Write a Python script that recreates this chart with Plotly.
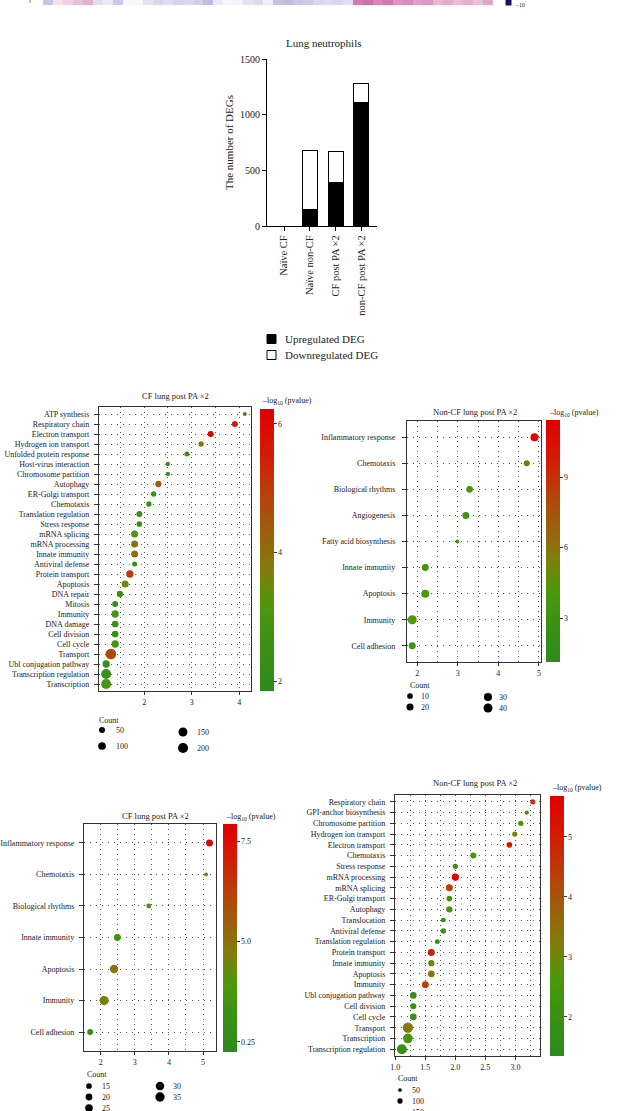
import numpy as np
import plotly.graph_objects as go

W, H = 626, 1111
FONT = "Liberation Serif"


def fx(x):
    return x / W


def fy(y):
    return 1 - y / H


# ---------------- data ----------------
# top heat-strip (bottom row of a cropped heatmap)
strip_values = [-2.6, 1.2, 1.8, 2.4, 3.0, -1.5, -1.0, -2.5, -0.3, -0.4, -1.2, -1.8, -1.5,
                -2.0, -1.7, -2.2, -3.0, -1.0, -0.4, -0.6, -1.3, -1.6, -0.7, -2.8, -3.0,
                -2.6, -2.4, -1.8, -1.6, -1.9, -1.5, 5.0, 5.5, 4.6, 5.2, 4.0, 4.4, 3.6,
                4.0, 2.8, 3.2, 2.6, 3.0, 2.4, 3.4]

# bar chart
bar_groups = ["Naïve CF", "Naïve non-CF", "CF post PA ×2", "non-CF post PA ×2"]
up_degs = [0, 150, 390, 1110]
down_degs = [0, 530, 280, 170]

# panel 1: CF lung post PA x2 (up)
p1_terms = ["ATP synthesis", "Respiratory chain", "Electron transport", "Hydrogen ion transport",
            "Unfolded protein response", "Host-virus interaction", "Chromosome partition",
            "Autophagy", "ER-Golgi transport", "Chemotaxis", "Translation regulation",
            "Stress response", "mRNA splicing", "mRNA processing", "Innate immunity",
            "Antiviral defense", "Protein transport", "Apoptosis", "DNA repair", "Mitosis",
            "Immunity", "DNA damage", "Cell division", "Cell cycle", "Transport",
            "Ubl conjugation pathway", "Transcription regulation", "Transcription"]
p1_fold = [4.12, 3.91, 3.40, 3.20, 2.90, 2.50, 2.50, 2.30, 2.20, 2.10, 1.90, 1.90, 1.80, 1.80,
           1.80, 1.80, 1.70, 1.60, 1.49, 1.39, 1.39, 1.39, 1.39, 1.39, 1.30, 1.20, 1.20, 1.20]
p1_count = [13, 50, 50, 35, 29, 17, 17, 58, 35, 35, 50, 43, 78, 78, 78, 29, 87, 78, 58, 50,
            87, 69, 69, 87, 231, 87, 196, 196]
p1_logp = [2.2, 5.6, 6.1, 3.9, 2.6, 2.2, 2.2, 4.3, 2.6, 2.5, 2.4, 2.3, 3.1, 4.0, 4.0, 2.2, 5.0,
           3.6, 2.6, 2.4, 2.9, 2.5, 2.5, 2.8, 4.8, 2.2, 2.5, 2.9]
p1_legend_counts = [50, 100, 150, 200]

# panel 2: Non-CF lung post PA x2
p2_terms = ["Inflammatory response", "Chemotaxis", "Biological rhythms", "Angiogenesis",
            "Fatty acid biosynthesis", "Innate immunity", "Apoptosis", "Immunity", "Cell adhesion"]
p2_fold = [4.89, 4.70, 3.29, 3.20, 2.99, 2.20, 2.20, 1.88, 1.88]
p2_count = [29, 12, 17, 19, 2, 19, 29, 40, 19]
p2_logp = [11.0, 6.3, 3.8, 3.2, 2.8, 3.6, 4.0, 4.2, 3.2]
p2_legend_counts = [10, 20, 30, 40]

# panel 3: CF lung post PA x2
p3_terms = ["Inflammatory response", "Chemotaxis", "Biological rhythms", "Innate immunity",
            "Apoptosis", "Immunity", "Cell adhesion"]
p3_fold = [5.19, 5.09, 3.41, 2.49, 2.39, 2.10, 1.69]
p3_count = [21, 8, 12, 21, 29, 35, 16]
p3_logp = [7.7, 4.4, 3.6, 3.4, 4.9, 4.6, 2.9]
p3_legend_counts = [15, 20, 25, 30, 35]

# panel 4: Non-CF lung post PA x2
p4_terms = ["Respiratory chain", "GPI-anchor biosynthesis", "Chromosome partition",
            "Hydrogen ion transport", "Electron transport", "Chemotaxis", "Stress response",
            "mRNA processing", "mRNA splicing", "ER-Golgi transport", "Autophagy",
            "Translocation", "Antiviral defense", "Translation regulation", "Protein transport",
            "Innate immunity", "Apoptosis", "Immunity", "Ubl conjugation pathway",
            "Cell division", "Cell cycle", "Transport", "Transcription", "Transcription regulation"]
p4_fold = [3.29, 3.19, 3.09, 2.99, 2.90, 2.30, 2.00, 2.00, 1.90, 1.90, 1.90, 1.80, 1.80, 1.70,
           1.60, 1.60, 1.60, 1.50, 1.30, 1.30, 1.30, 1.21, 1.21, 1.11]
p4_count = [100, 65, 100, 100, 113, 127, 100, 187, 171, 113, 141, 88, 100, 88, 171, 141, 156,
            171, 156, 127, 156, 370, 326, 346]
p4_logp = [4.5, 1.9, 2.3, 3.0, 5.3, 2.4, 1.9, 5.5, 4.4, 2.2, 2.4, 1.8, 1.8, 1.7, 5.0, 3.0, 3.4,
           4.3, 1.9, 1.8, 2.0, 3.3, 2.4, 1.9]
p4_legend_counts = [50, 100, 150]

# ---------------- style ----------------
GO_SCALE = [[0.0, "#2e8a1e"], [0.2, "#3f9312"], [0.3, "#4e980c"], [0.42, "#7e800a"],
            [0.55, "#9a620c"], [0.7, "#b8400a"], [0.85, "#d41a04"], [1.0, "#e00000"]]

panels = [
    dict(terms=p1_terms, fold=p1_fold, count=p1_count, logp=p1_logp, leg=p1_legend_counts,
         box=(99, 407, 251, 691), xr=[1.05, 4.25], dtick=1, minor=0.5, fmt="d", pad=0.7,
         size=(0.579, 1.9), cb=(260, 409, 691, 1.85, 6.23, [2, 4, 6], ["2", "4", "6"]),
         title="CF lung post PA ×2", title_xy=(175, 396), cbt_xy=(260, 401), standoff=3,
         leg_title=(97, 720), leg_dx=12,
         leg_items=[(102, 730), (102, 746), (183, 732), (183, 748)]),
    dict(terms=p2_terms, fold=p2_fold, count=p2_count, logp=p2_logp, leg=p2_legend_counts,
         box=(407, 421, 541, 662), xr=[1.75, 5.05], dtick=1, minor=0.5, fmt="d", pad=0.62,
         size=(1.044, 2.4), cb=(546, 420, 662, 1.13, 11.43, [3, 6, 9], ["3", "6", "9"]),
         title="Non-CF lung post PA ×2", title_xy=(475, 412), cbt_xy=(547, 413), standoff=5,
         leg_title=(408, 685), leg_dx=9,
         leg_items=[(410, 696), (410, 707), (488, 697), (488, 708)]),
    dict(terms=p3_terms, fold=p3_fold, count=p3_count, logp=p3_logp, leg=p3_legend_counts,
         box=(84, 824, 216, 1051), xr=[1.51, 5.38], dtick=1, minor=0.5, fmt="d", pad=0.6,
         size=(1.756, -1.1), cb=(223, 824, 1052, 2.25, 7.93, [2.5, 5, 7.5], ["0.25", "5.0", "7.5"]),
         title="CF lung post PA ×2", title_xy=(155, 816), cbt_xy=(224, 817), standoff=3,
         leg_title=(85, 1074), leg_dx=11,
         leg_items=[(89, 1086), (89, 1097), (89, 1108), (160, 1086), (160, 1097)]),
    dict(terms=p4_terms, fold=p4_fold, count=p4_count, logp=p4_logp, leg=p4_legend_counts,
         box=(395, 795, 540, 1056), xr=[0.995, 3.41], dtick=0.5, minor=0.25, fmt=".1f", pad=0.63,
         size=(0.546, -0.16), cb=(550, 796, 1056, 1.35, 5.68, [2, 3, 4, 5], ["2", "3", "4", "5"]),
         title="Non-CF lung post PA ×2", title_xy=(475, 783), cbt_xy=(550, 788), standoff=3,
         leg_title=(396, 1078), leg_dx=10,
         leg_items=[(400, 1090), (400, 1101), (400, 1112)]),
]

fig = go.Figure()
annotations = []
layout = dict(
    width=W, height=H, margin=dict(l=0, r=0, t=0, b=0, autoexpand=False),
    paper_bgcolor="white", plot_bgcolor="rgba(0,0,0,0)", showlegend=False,
    font=dict(family=FONT, color="#222", size=9),
    shapes=[dict(type="line", xref="paper", yref="paper", x0=fx(30), x1=fx(30),
                 y0=fy(0), y1=fy(3), line=dict(color="#888", width=1))],
)


def ann(text, x, y, size=8, xanchor="left", yanchor="middle", angle=0):
    annotations.append(dict(text=text, x=fx(x), y=fy(y), xref="paper", yref="paper",
                            showarrow=False, xanchor=xanchor, yanchor=yanchor, textangle=angle,
                            font=dict(family=FONT, size=size, color="#222")))


# ---------------- top heat strip ----------------
fig.add_trace(go.Heatmap(z=[strip_values], x=list(range(len(strip_values))), y=[0],
                         colorscale=[[0, "#0e1260"], [0.25, "#9890cc"], [0.5, "#ffffff"],
                                     [0.75, "#d47cb0"], [1, "#a0004c"]],
                         zmin=-10, zmax=10, showscale=False, xaxis="x6", yaxis="y6",
                         hoverinfo="skip"))
layout["xaxis6"] = dict(domain=[fx(43), fx(493)], range=[-0.5, len(strip_values) - 0.5],
                        visible=False, anchor="y6")
layout["yaxis6"] = dict(domain=[fy(5), 1], range=[-0.5, 0.5], visible=False, anchor="x6")

# ---------------- bar chart ----------------
fig.add_trace(go.Bar(x=bar_groups, y=up_degs, name="Upregulated DEG", marker=dict(
    color="black", line=dict(color="black", width=1)), width=0.58, xaxis="x", yaxis="y"))
fig.add_trace(go.Bar(x=bar_groups, y=down_degs, name="Downregulated DEG", marker=dict(
    color="white", line=dict(color="black", width=1)), width=0.58, xaxis="x", yaxis="y"))
layout["barmode"] = "stack"
layout["xaxis"] = dict(domain=[fx(267), fx(377)], range=[-0.66, 3.61], type="category",
                       showline=True, linecolor="black", linewidth=1.2, ticks="outside",
                       ticklen=4, tickcolor="black", tickangle=-90,
                       tickfont=dict(family=FONT, size=10.5, color="#222"), anchor="y",
                       showgrid=False, zeroline=False)
layout["yaxis"] = dict(domain=[fy(226), fy(59)], range=[0, 1500], tickvals=[0, 500, 1000, 1500],
                       showline=True, linecolor="black", linewidth=1.2, ticks="outside",
                       ticklen=4, tickcolor="black", showgrid=False, zeroline=False,
                       tickfont=dict(family=FONT, size=10, color="#222"), anchor="x")
ann("Lung neutrophils", 323, 43, size=11, xanchor="center")
ann("The number of DEGs", 229, 143, size=11, xanchor="center", angle=-90)

# overlay axis in pixel units for legend keys
layout["xaxis7"] = dict(domain=[0, 1], range=[0, W], visible=False, anchor="y7")
layout["yaxis7"] = dict(domain=[0, 1], range=[H, 0], visible=False, anchor="x7")

# bar legend keys
bar_leg_y = [339, 355]
for (name, fill), ly in zip([("Upregulated DEG", "black"), ("Downregulated DEG", "white")], bar_leg_y):
    fig.add_trace(go.Scatter(x=[271.5], y=[ly], mode="markers", xaxis="x7", yaxis="y7",
                             marker=dict(symbol="square", size=9, color=fill,
                                         line=dict(color="black", width=1)),
                             hoverinfo="skip"))
    ann(name, 283, ly, size=11)

# heat strip legend key
fig.add_trace(go.Scatter(x=[508.5], y=[2.5], mode="markers", xaxis="x7", yaxis="y7",
                         marker=dict(symbol="square", size=6, color="#0e1260"), hoverinfo="skip"))
ann("–10", 513, 5, size=6)

# ---------------- dot plots ----------------
for i, p in enumerate(panels):
    k = i + 2
    xa, ya = f"x{k}", f"y{k}"
    ca = "coloraxis" if i == 0 else f"coloraxis{i + 1}"
    sk, sb = p["size"]
    diam = [sb + sk * np.sqrt(c) for c in p["count"]]
    fig.add_trace(go.Scatter(x=p["fold"], y=p["terms"], mode="markers", xaxis=xa, yaxis=ya,
                             marker=dict(size=diam, color=p["logp"], coloraxis=ca,
                                         line=dict(width=0), opacity=1),
                             hoverinfo="skip"))
    x0, y0, x1, y1 = p["box"]
    n = len(p["terms"])
    layout[f"xaxis{k}"] = dict(
        domain=[fx(x0), fx(x1)], range=p["xr"], anchor=ya, dtick=p["dtick"], tick0=0,
        tickformat=p["fmt"], showline=True, mirror=True, linecolor="#333", linewidth=1.2,
        ticks="outside", ticklen=3, tickcolor="#333", zeroline=False,
        showgrid=True, gridcolor="#555", gridwidth=1, griddash="1px,4px",
        minor=dict(dtick=p["minor"], showgrid=True, gridcolor="#555", gridwidth=1,
                   griddash="1px,4px", ticks=""),
        tickfont=dict(family=FONT, size=8, color="#222"))
    layout[f"yaxis{k}"] = dict(
        domain=[fy(y1), fy(y0)], type="category", categoryorder="array",
        categoryarray=p["terms"], range=[n - 1 + p["pad"], -p["pad"]], anchor=xa,
        showline=True, mirror=True, linecolor="#333", linewidth=1.2, ticks="outside",
        ticklen=4, tickcolor="#333", zeroline=False, ticklabelstandoff=p["standoff"],
        showgrid=True, gridcolor="#555", gridwidth=1, griddash="1px,5px",
        tickfont=dict(family=FONT, size=8, color="#222"))
    cbx, cbt, cbb, cmin, cmax, tv, tt = p["cb"]
    layout[ca] = dict(
        cmin=cmin, cmax=cmax, colorscale=GO_SCALE,
        colorbar=dict(x=fx(cbx), xanchor="left", y=fy((cbt + cbb) / 2), yanchor="middle",
                      thickness=14, thicknessmode="pixels", len=cbb - cbt, lenmode="pixels",
                      xpad=0, ypad=0, outlinewidth=0, ticks="outside", ticklen=3,
                      tickcolor="#333", tickvals=tv, ticktext=tt,
                      tickfont=dict(family=FONT, size=8, color="#222")))
    ann(p["title"], *p["title_xy"], size=8.5, xanchor="center")
    ann("–log<sub>10</sub> (pvalue)", *p["cbt_xy"], size=8)
    # size legend
    ann("Count", *p["leg_title"], size=8)
    for c, (lx, ly) in zip(p["leg"], p["leg_items"]):
        fig.add_trace(go.Scatter(x=[lx], y=[ly], mode="markers", xaxis="x7", yaxis="y7",
                                 marker=dict(size=sb + sk * np.sqrt(c), color="black"),
                                 hoverinfo="skip", cliponaxis=False))
        ann(str(c), lx + p["leg_dx"], ly, size=8)

layout["annotations"] = annotations
fig.update_layout(**layout)
fig.write_html("out.html")
